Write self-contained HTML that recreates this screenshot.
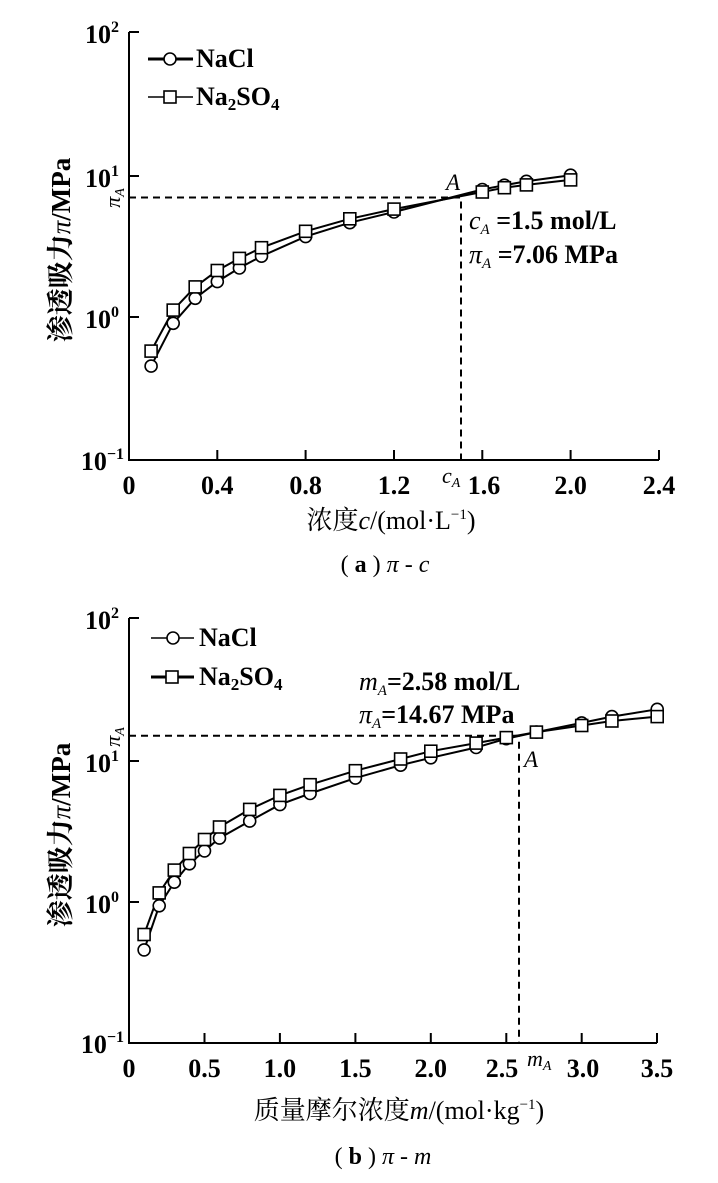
<!DOCTYPE html>
<html><head><meta charset="utf-8"><style>
html,body{margin:0;padding:0;background:#fff;}
svg{display:block;}
text{font-family:"Liberation Serif","Noto Serif CJK SC",serif;fill:#000;}
.t{font-size:26px;font-weight:bold;}
.c{fill:#fff;stroke:#000;stroke-width:1.6;}
</style></head><body>
<svg width="718" height="1183" viewBox="0 0 718 1183" xmlns="http://www.w3.org/2000/svg">
<!-- ===== Chart A ===== -->
<g stroke="#000" stroke-width="2" fill="none">
<path d="M129 32 V460 H659"/>
<path d="M129 32 h10 M129 176 h10 M129 317 h10 M217.3 460 v-10 M305.6 460 v-10 M394 460 v-10 M482.3 460 v-10 M570.6 460 v-10 M659 460 v-10"/>
</g>
<g stroke="#000" stroke-width="2" stroke-dasharray="7,5" fill="none">
<path d="M129 197.5 H461 V460"/>
</g>
<g fill="none" stroke="#000" stroke-width="2">
<polyline points="151.1,366.1 173.2,323.3 195.2,298.3 217.3,281.6 239.4,268 261.5,256.2 305.6,236.6 349.8,222.7 394,212 482.3,189.5 504.4,185.2 526.4,181.3 570.6,175.2"/>
<polyline points="151.1,351.1 173.2,310.1 195.2,286.9 217.3,270.5 239.4,258.4 261.5,247.7 305.6,231.3 349.8,218.8 394,209.1 482.3,192 504.4,187.7 526.4,184.9 570.6,179.9"/>
</g>
<g>
<circle class="c" cx="151.1" cy="366.1" r="6"/><circle class="c" cx="173.2" cy="323.3" r="6"/><circle class="c" cx="195.2" cy="298.3" r="6"/><circle class="c" cx="217.3" cy="281.6" r="6"/><circle class="c" cx="239.4" cy="268" r="6"/><circle class="c" cx="261.5" cy="256.2" r="6"/><circle class="c" cx="305.6" cy="236.6" r="6"/><circle class="c" cx="349.8" cy="222.7" r="6"/><circle class="c" cx="394" cy="212" r="6"/><circle class="c" cx="482.3" cy="189.5" r="6"/><circle class="c" cx="504.4" cy="185.2" r="6"/><circle class="c" cx="526.4" cy="181.3" r="6"/><circle class="c" cx="570.6" cy="175.2" r="6"/>
<rect class="c" x="145.1" y="345.1" width="12" height="12"/><rect class="c" x="167.2" y="304.1" width="12" height="12"/><rect class="c" x="189.2" y="280.9" width="12" height="12"/><rect class="c" x="211.3" y="264.5" width="12" height="12"/><rect class="c" x="233.4" y="252.4" width="12" height="12"/><rect class="c" x="255.5" y="241.7" width="12" height="12"/><rect class="c" x="299.6" y="225.3" width="12" height="12"/><rect class="c" x="343.8" y="212.8" width="12" height="12"/><rect class="c" x="388" y="203.1" width="12" height="12"/><rect class="c" x="476.3" y="186" width="12" height="12"/><rect class="c" x="498.4" y="181.7" width="12" height="12"/><rect class="c" x="520.4" y="178.9" width="12" height="12"/><rect class="c" x="564.6" y="173.9" width="12" height="12"/>
</g>
<path d="M148 59 H193" stroke="#000" stroke-width="3"/><circle class="c" cx="170" cy="59" r="6"/>
<path d="M148 97 H193" stroke="#000" stroke-width="1.5"/><rect class="c" x="164" y="91" width="12" height="12"/>
<text class="t" x="196" y="67">NaCl</text>
<text class="t" x="196" y="105">Na<tspan font-size="17" dy="5">2</tspan><tspan dy="-5">SO</tspan><tspan font-size="17" dy="5">4</tspan></text>
<g class="t" text-anchor="end">
<text x="119" y="43">10<tspan font-size="16" dy="-11">2</tspan></text>
<text x="119" y="187">10<tspan font-size="16" dy="-11">1</tspan></text>
<text x="119" y="328">10<tspan font-size="16" dy="-11">0</tspan></text>
<text x="124" y="470">10<tspan font-size="16" dy="-11">−1</tspan></text>
</g>
<g class="t" text-anchor="middle">
<text x="129" y="494">0</text><text x="217.3" y="494">0.4</text><text x="305.6" y="494">0.8</text><text x="394" y="494">1.2</text><text x="484" y="494">1.6</text><text x="570.6" y="494">2.0</text><text x="659" y="494">2.4</text>
</g>
<text x="442" y="483" font-size="22" font-style="italic">c<tspan font-size="14" dy="4">A</tspan></text>
<text x="120" y="198" font-size="22" font-style="italic" transform="rotate(-90 120 198)" text-anchor="middle">π<tspan font-size="14" dy="4">A</tspan></text>
<text x="446" y="190" font-size="23" font-style="italic">A</text>
<text class="t" x="469" y="229"><tspan font-style="italic" font-weight="normal">c</tspan><tspan font-size="15" font-style="italic" font-weight="normal" dy="5">A</tspan><tspan dy="-5"> =1.5 mol/L</tspan></text>
<text class="t" x="469" y="263"><tspan font-style="italic" font-weight="normal">π</tspan><tspan font-size="15" font-style="italic" font-weight="normal" dy="5">A</tspan><tspan dy="-5"> =7.06 MPa</tspan></text>
<text x="391" y="529" font-size="26" text-anchor="middle">浓度<tspan font-style="italic">c</tspan>/(mol·L<tspan font-size="15" dy="-10">−1</tspan><tspan dy="10">)</tspan></text>
<text x="385" y="572" font-size="24" text-anchor="middle">(  <tspan font-weight="bold">a</tspan>  )  <tspan font-style="italic">π</tspan>  -  <tspan font-style="italic">c</tspan></text>
<text x="70" y="250" font-size="27" font-weight="bold" text-anchor="middle" transform="rotate(-90 70 250)">渗透吸力<tspan font-style="italic" font-weight="normal">π</tspan>/MPa</text>

<!-- ===== Chart B ===== -->
<g stroke="#000" stroke-width="2" fill="none">
<path d="M129 618 V1043 H657"/>
<path d="M129 618 h10 M129 761 h10 M129 902 h10 M204.5 1043 v-10 M279.9 1043 v-10 M355.4 1043 v-10 M430.8 1043 v-10 M506.3 1043 v-10 M581.7 1043 v-10 M657 1043 v-10"/>
</g>
<g stroke="#000" stroke-width="2" stroke-dasharray="7,5" fill="none">
<path d="M129 735.8 H519 V1043"/>
</g>
<g fill="none" stroke="#000" stroke-width="2">
<polyline points="144.1,949.9 159.2,905.8 174.3,882.2 189.4,863.8 204.5,850.9 219.5,838.1 249.7,821.1 279.9,804.6 310.1,793.5 355.4,778.1 400.6,765.2 430.8,757.8 476.1,747.5 506.3,738.7 536.4,732.1 581.7,722.9 611.9,716.6 657.2,709.3"/>
<polyline points="144.1,934.5 159.2,892.9 174.3,870.1 189.4,853.5 204.5,839.5 219.5,827 249.7,809.4 279.9,795.4 310.1,784.7 355.4,770.7 400.6,759 430.8,751.2 476.1,743.1 506.3,737.6 536.4,732.1 581.7,725.5 611.9,721 657.2,716.6"/>
</g>
<g>
<circle class="c" cx="144.1" cy="949.9" r="6"/><circle class="c" cx="159.2" cy="905.8" r="6"/><circle class="c" cx="174.3" cy="882.2" r="6"/><circle class="c" cx="189.4" cy="863.8" r="6"/><circle class="c" cx="204.5" cy="850.9" r="6"/><circle class="c" cx="219.5" cy="838.1" r="6"/><circle class="c" cx="249.7" cy="821.1" r="6"/><circle class="c" cx="279.9" cy="804.6" r="6"/><circle class="c" cx="310.1" cy="793.5" r="6"/><circle class="c" cx="355.4" cy="778.1" r="6"/><circle class="c" cx="400.6" cy="765.2" r="6"/><circle class="c" cx="430.8" cy="757.8" r="6"/><circle class="c" cx="476.1" cy="747.5" r="6"/><circle class="c" cx="506.3" cy="738.7" r="6"/><circle class="c" cx="536.4" cy="732.1" r="6"/><circle class="c" cx="581.7" cy="722.9" r="6"/><circle class="c" cx="611.9" cy="716.6" r="6"/><circle class="c" cx="657.2" cy="709.3" r="6"/>
<rect class="c" x="138.1" y="928.5" width="12" height="12"/><rect class="c" x="153.2" y="886.9" width="12" height="12"/><rect class="c" x="168.3" y="864.1" width="12" height="12"/><rect class="c" x="183.4" y="847.5" width="12" height="12"/><rect class="c" x="198.5" y="833.5" width="12" height="12"/><rect class="c" x="213.5" y="821" width="12" height="12"/><rect class="c" x="243.7" y="803.4" width="12" height="12"/><rect class="c" x="273.9" y="789.4" width="12" height="12"/><rect class="c" x="304.1" y="778.7" width="12" height="12"/><rect class="c" x="349.4" y="764.7" width="12" height="12"/><rect class="c" x="394.6" y="753" width="12" height="12"/><rect class="c" x="424.8" y="745.2" width="12" height="12"/><rect class="c" x="470.1" y="737.1" width="12" height="12"/><rect class="c" x="500.3" y="731.6" width="12" height="12"/><rect class="c" x="530.4" y="726.1" width="12" height="12"/><rect class="c" x="575.7" y="719.5" width="12" height="12"/><rect class="c" x="605.9" y="715" width="12" height="12"/><rect class="c" x="651.2" y="710.6" width="12" height="12"/>
</g>
<path d="M151 638 H194" stroke="#000" stroke-width="1.5"/><circle class="c" cx="173" cy="638" r="6"/>
<path d="M151 677 H194" stroke="#000" stroke-width="3"/><rect class="c" x="166" y="671" width="12" height="12"/>
<text class="t" x="199" y="646">NaCl</text>
<text class="t" x="199" y="685">Na<tspan font-size="17" dy="5">2</tspan><tspan dy="-5">SO</tspan><tspan font-size="17" dy="5">4</tspan></text>
<g class="t" text-anchor="end">
<text x="119" y="629">10<tspan font-size="16" dy="-11">2</tspan></text>
<text x="119" y="772">10<tspan font-size="16" dy="-11">1</tspan></text>
<text x="119" y="913">10<tspan font-size="16" dy="-11">0</tspan></text>
<text x="124" y="1053">10<tspan font-size="16" dy="-11">−1</tspan></text>
</g>
<g class="t" text-anchor="middle">
<text x="129" y="1077">0</text><text x="204.5" y="1077">0.5</text><text x="279.9" y="1077">1.0</text><text x="355.4" y="1077">1.5</text><text x="430.8" y="1077">2.0</text><text x="502" y="1077">2.5</text><text x="583" y="1077">3.0</text><text x="657" y="1077">3.5</text>
</g>
<text x="527" y="1066" font-size="22" font-style="italic">m<tspan font-size="14" dy="4">A</tspan></text>
<text x="120" y="737" font-size="22" font-style="italic" transform="rotate(-90 120 737)" text-anchor="middle">π<tspan font-size="14" dy="4">A</tspan></text>
<text x="524" y="767" font-size="23" font-style="italic">A</text>
<text class="t" x="359" y="690"><tspan font-style="italic" font-weight="normal">m</tspan><tspan font-size="15" font-style="italic" font-weight="normal" dy="5">A</tspan><tspan dy="-5">=2.58 mol/L</tspan></text>
<text class="t" x="359" y="723"><tspan font-style="italic" font-weight="normal">π</tspan><tspan font-size="15" font-style="italic" font-weight="normal" dy="5">A</tspan><tspan dy="-5">=14.67 MPa</tspan></text>
<text x="399" y="1119" font-size="26" text-anchor="middle">质量摩尔浓度<tspan font-style="italic">m</tspan>/(mol·kg<tspan font-size="15" dy="-10">−1</tspan><tspan dy="10">)</tspan></text>
<text x="383" y="1164" font-size="24" text-anchor="middle">(  <tspan font-weight="bold">b</tspan>  )  <tspan font-style="italic">π</tspan>  -  <tspan font-style="italic">m</tspan></text>
<text x="70" y="835" font-size="27" font-weight="bold" text-anchor="middle" transform="rotate(-90 70 835)">渗透吸力<tspan font-style="italic" font-weight="normal">π</tspan>/MPa</text>
</svg>
</body></html>
